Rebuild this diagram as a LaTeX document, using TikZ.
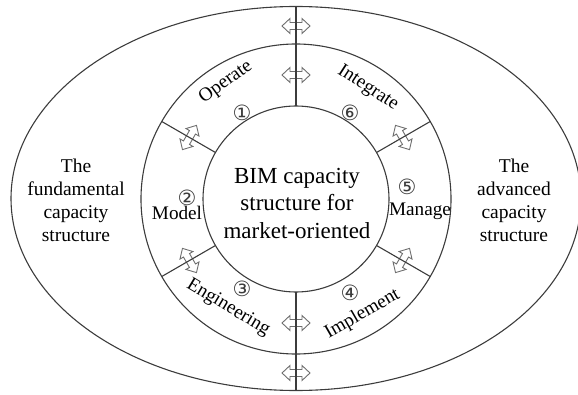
\documentclass[tikz,border=0pt]{standalone}
\usepackage{fontspec}
\setmainfont{Liberation Serif}
\newfontfamily\djv{DejaVu Sans}
\definecolor{linec}{HTML}{3C3C3C}
\definecolor{arrc}{HTML}{6E6E6E}
\tikzset{
  ln/.style={draw=linec, line width=1.1pt},
  arrline/.style={draw=arrc, fill=white, line width=0.9pt, line join=miter},
  dblarrow/.pic={\path[arrline] (-14,0) -- (-6,7.5) -- (-6,3.5) -- (6,3.5) -- (6,7.5) -- (14,0) -- (6,-7.5) -- (6,-3.5) -- (-6,-3.5) -- (-6,-7.5) -- cycle;},
  lbl/.style={font=\fontsize{19.2}{21}\selectfont, inner sep=0pt},
  num/.style={font=\djv\fontsize{21}{21}\selectfont, inner sep=0pt, text=linec},
  side/.style={font=\fontsize{19.5}{23}\selectfont, align=center, inner sep=0pt},
  ctr/.style={font=\fontsize{23}{27.5}\selectfont, align=center, inner sep=0pt}
}
\begin{document}
\begin{tikzpicture}[x=1pt,y=1pt]
\useasboundingbox (0,0) rectangle (578,394);
\coordinate (C) at (296,195);
% outer ellipse and rings
\draw[ln] (296,195.5) ellipse [x radius=285, y radius=192];
\draw[ln] (C) circle [radius=155];
\draw[ln] (C) circle [radius=93];
% double arrows
\pic at ([shift={(90:124)}]C) {dblarrow};
\pic at ([shift={(90:173)}]C) {dblarrow};
\pic at ([shift={(270:124)}]C) {dblarrow};
\pic at ([shift={(270:174)}]C) {dblarrow};
\pic[rotate=120] at ([shift={(30:123)}]C) {dblarrow};
\pic[rotate=60] at ([shift={(150:123)}]C) {dblarrow};
\pic[rotate=120] at ([shift={(210:123)}]C) {dblarrow};
\pic[rotate=60] at ([shift={(330:123)}]C) {dblarrow};
% dividing lines
\coordinate (i90) at ([shift={(90:93)}]C);
\coordinate (e90) at (296,387.5);
\coordinate (i270) at ([shift={(270:93)}]C);
\coordinate (e270) at (296,3.5);
\foreach \a in {30,150,210,330}{
  \coordinate (i\a) at ([shift={(\a:93)}]C);
  \coordinate (o\a) at ([shift={(\a:155)}]C);
}
\draw[ln] (i90) -- (e90);
\draw[ln] (i270) -- (e270);
\draw[ln] (i30) -- (o30);
\draw[ln] (i150) -- (o150);
\draw[ln] (i210) -- (o210);
\draw[ln] (i330) -- (o330);
% labels
\node[lbl, rotate=36] (operate) at ([shift={(121:136)}]C) {Operate};
\node[lbl, rotate=-33] (integrate) at ([shift={(57:132)}]C) {Integrate};
\node[lbl, rotate=-31] (engineering) at ([shift={(238:128)}]C) {Engineering};
\node[lbl, rotate=30] (implement) at ([shift={(300:133)}]C) {Implement};
\node[lbl] (model) at (177,181) {Model};
\node[lbl] (manage) at (420,183) {Manage};
\node[num] (n1) at ([shift={(122:102)}]C) {①};
\node[num] (n6) at ([shift={(58:102)}]C) {⑥};
\node[num] (n3) at ([shift={(239:105)}]C) {③};
\node[num] (n4) at ([shift={(300:108)}]C) {④};
\node[num] (n2) at (187,196) {②};
\node[num] (n5) at (407,207) {⑤};
% center and side texts
\node[ctr] (center) at (297,191) {BIM capacity\\structure for\\market-oriented};
\node[side] (fund) at (76,194) {The\\fundamental\\capacity\\structure};
\node[side] (adv) at (514,194) {The\\advanced\\capacity\\structure};
\end{tikzpicture}
\end{document}
